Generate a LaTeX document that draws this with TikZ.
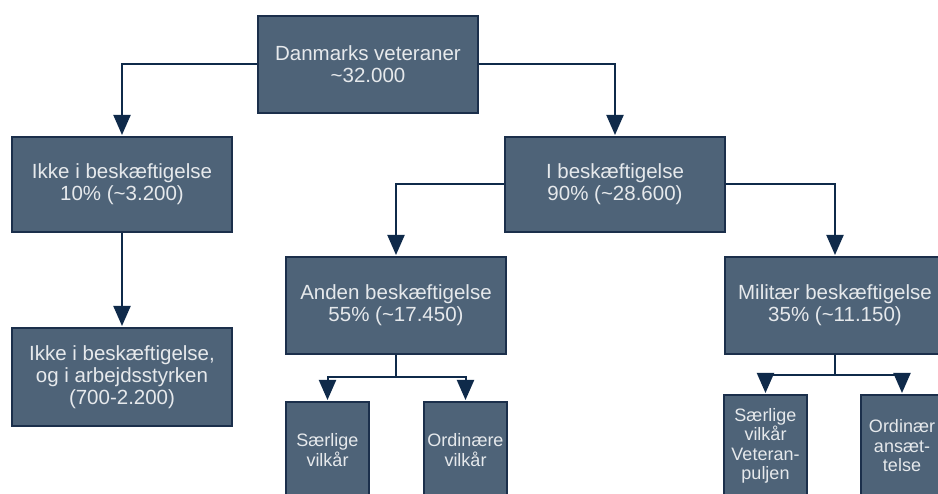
\documentclass[tikz,border=0pt]{standalone}
\usepackage{fontspec}
\setmainfont{Liberation Sans}
\usetikzlibrary{arrows.meta}
\definecolor{boxfill}{HTML}{4E6378}
\definecolor{boxline}{HTML}{1B2F4B}
\definecolor{arrowc}{HTML}{0F2A4A}
\definecolor{boxtext}{HTML}{E6E9EC}
\begin{document}
\begin{tikzpicture}[x=1pt,y=-1pt]
    \tikzset{
    box/.style={rectangle,draw=boxline,line width=2pt,fill=boxfill,text=boxtext,align=center,
        minimum width=220pt,minimum height=97pt,inner sep=2pt,font=\fontsize{20.5}{22}\selectfont},
    smallbox/.style={box,minimum width=83pt,minimum height=100pt,font=\fontsize{18}{19.5}\selectfont},
    conn/.style={draw=arrowc,line width=2pt,-{Triangle[width=17pt,length=20pt]},shorten >=1pt},
    stem/.style={draw=arrowc,line width=2pt},
    }
    \path[use as bounding box,clip] (0,0) rectangle (938,494);
    \fill[white] (0,0) rectangle (938,494);

    \node[box] (top) at (368,64.5) {Danmarks veteraner\\\textasciitilde32.000};
    \node[box,minimum height=95pt] (ikke) at (122,184.5) {Ikke i beskæftigelse\\10\% (\textasciitilde3.200)};
    \node[box,minimum height=95pt] (iarb) at (615,184.5) {I beskæftigelse\\90\% (\textasciitilde28.600)};
    \node[box,minimum height=98pt] (ikkeab) at (122,377) {Ikke i beskæftigelse,\\og i arbejdsstyrken\\(700-2.200)};
    \node[box] (anden) at (396,305.5) {Anden beskæftigelse\\55\% (\textasciitilde17.450)};
    \node[box] (mil) at (835,305.5) {Militær beskæftigelse\\35\% (\textasciitilde11.150)};
    \node[smallbox,minimum height=96pt] (s1) at (327.5,450) {Særlige\\vilkår};
    \node[smallbox,minimum height=96pt] (s2) at (465.5,450) {Ordinære\\vilkår};
    \node[smallbox,minimum height=102pt] (s3) at (765.5,446) {Særlige\\vilkår\\Veteran-\\puljen};
    \node[smallbox,minimum height=102pt] (s4) at (902,446) {Ordinær\\ansæt-\\telse};

    \draw[conn] (top.west) -| (ikke.north);
    \draw[conn] (top.east) -| (iarb.north);
    \draw[conn] (ikke.south) -- (ikkeab.north);
    \draw[conn] (iarb.west) -| (anden.north);
    \draw[conn] (iarb.east) -| (mil.north);

    \draw[stem] (anden.south) -- ++(0,22) coordinate (aj);
    \draw[conn] (aj) -| (s1.north);
    \draw[conn] (aj) -| (s2.north);
    \draw[stem] (mil.south) -- ++(0,20) coordinate (mj);
    \draw[conn] (mj) -| (s3.north);
    \draw[conn] (mj) -| (s4.north);
\end{tikzpicture}
\end{document}
